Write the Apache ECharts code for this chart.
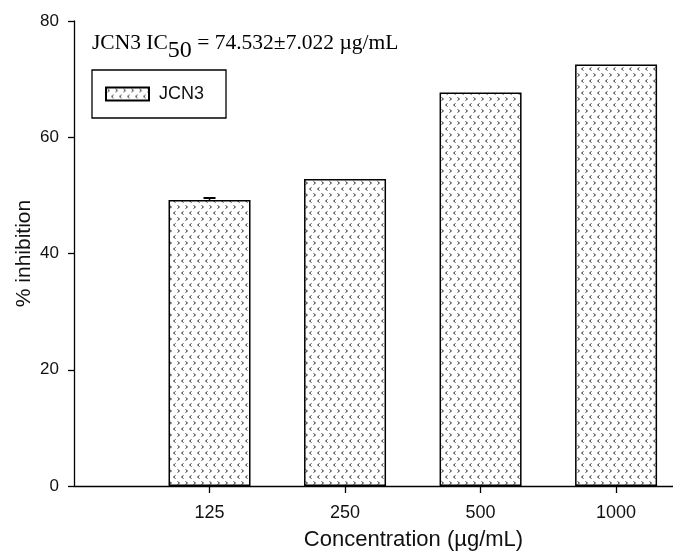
<!DOCTYPE html>
<html>
<head>
<meta charset="utf-8">
<script src="https://cdn.jsdelivr.net/npm/echarts@6/dist/echarts.min.js"></script>
<style>
  html, body { margin: 0; background: #fff; }
  #chart { width: 673px; height: 556px; }
</style>
</head>
<body>
<div id="chart"></div>
<script>
// data
var concLabels = ['125', '250', '500', '1000'];
var concPos = [1, 2, 3, 4];
var inhibition = [49.2, 52.8, 67.7, 72.5];
var inhibitionErr = [0.35, 0, 0, 0];
var yTicks = [0, 20, 40, 60, 80];

// small "> <" dotted fill like the original bars
function makePattern() {
  var c = document.createElement('canvas');
  c.width = 16; c.height = 12;
  var g = c.getContext('2d');
  g.fillStyle = '#fff';
  g.fillRect(0, 0, 16, 12);
  g.strokeStyle = '#333';
  g.lineWidth = 1;
  function chev(x, y, dir) {
    var a = dir > 0 ? 0 : 2, b = dir > 0 ? 2 : 0;
    g.beginPath();
    g.moveTo(x + a + .5, y + .5);
    g.lineTo(x + b + .5, y + 2);
    g.lineTo(x + a + .5, y + 3.5);
    g.stroke();
  }
  chev(1, 1, 1); chev(9, 1, 1);
  chev(5, 7, -1); chev(13, 7, -1);
  return c;
}

var fill = { image: makePattern(), repeat: 'repeat' };
var sans = 'Liberation Sans, Arial, sans-serif';
var serif = 'Liberation Serif, Times New Roman, serif';

var myChart = echarts.init(document.getElementById('chart'));
myChart.setOption({
  animation: false,
  backgroundColor: '#fff',
  textStyle: { fontFamily: sans, color: '#111' },
  title: {
    text: '{n|JCN3 IC}{s|50}{n| = 74.532±7.022 µg/mL}',
    left: 92,
    top: 32,
    padding: 0,
    textStyle: {
      fontWeight: 'normal',
      rich: {
        n: { fontFamily: serif, fontSize: 21.5, fontWeight: 'normal', color: '#000', lineHeight: 22, verticalAlign: 'top' },
        s: { fontFamily: serif, fontSize: 24, fontWeight: 'normal', color: '#000', lineHeight: 31, verticalAlign: 'bottom' }
      }
    }
  },
  legend: {
    data: ['JCN3'],
    left: 92,
    top: 70,
    padding: [15, 22, 15, 13],
    borderColor: '#000',
    borderWidth: 1.3,
    itemWidth: 43,
    itemHeight: 13,
    icon: 'rect',
    textStyle: { fontFamily: sans, fontSize: 18, color: '#111', padding: [0, 0, 0, 5] }
  },
  grid: { left: 74, right: 0, top: 21, bottom: 65 },
  xAxis: {
    type: 'value',
    min: 0,
    max: 4.42,
    name: 'Concentration (µg/mL)',
    nameLocation: 'middle',
    nameMoveOverlap: false,
    nameGap: 43,
    nameTextStyle: { fontFamily: sans, fontSize: 22, color: '#111', padding: [0, 0, 0, 80] },
    axisLine: { show: true, onZero: false, lineStyle: { color: '#000', width: 1.3 } },
    axisTick: { show: true, customValues: concPos, length: 7, lineStyle: { color: '#000', width: 1.3 } },
    axisLabel: {
      customValues: concPos,
      formatter: function (v) { return concLabels[Math.round(v) - 1]; },
      fontFamily: sans, fontSize: 18, color: '#111', margin: 18
    },
    splitLine: { show: false }
  },
  yAxis: {
    type: 'value',
    min: 0,
    max: 80,
    interval: 20,
    name: '% inhibition',
    nameLocation: 'middle',
    nameMoveOverlap: false,
    nameGap: 39,
    nameTextStyle: { fontFamily: sans, fontSize: 21, color: '#111' },
    axisLine: { show: true, lineStyle: { color: '#000', width: 1.3 } },
    axisTick: { show: true, customValues: yTicks, length: 6, lineStyle: { color: '#000', width: 1.3 } },
    axisLabel: { customValues: yTicks, fontFamily: sans, fontSize: 17, color: '#111', margin: 15 },
    splitLine: { show: false }
  },
  series: [
    {
      name: 'JCN3',
      type: 'bar',
      barWidth: 82,
      data: inhibition.map(function (v, i) { return [concPos[i], v]; }),
      itemStyle: { color: fill, borderColor: '#000', borderWidth: 1.5 }
    },
    {
      type: 'custom',
      z: 10,
      data: inhibition.map(function (v, i) { return [concPos[i], v, inhibitionErr[i]]; }),
      renderItem: function (params, api) {
        var e = api.value(2);
        if (!e) return;
        var top = api.coord([api.value(0), api.value(1) + e]);
        var bot = api.coord([api.value(0), api.value(1)]);
        return {
          type: 'group',
          children: [
            { type: 'line', shape: { x1: top[0], y1: top[1], x2: bot[0], y2: bot[1] }, style: { stroke: '#000', lineWidth: 1.5 } },
            { type: 'line', shape: { x1: top[0] - 6, y1: top[1], x2: top[0] + 6, y2: top[1] }, style: { stroke: '#000', lineWidth: 2 } }
          ]
        };
      }
    }
  ]
});
</script>
</body>
</html>
